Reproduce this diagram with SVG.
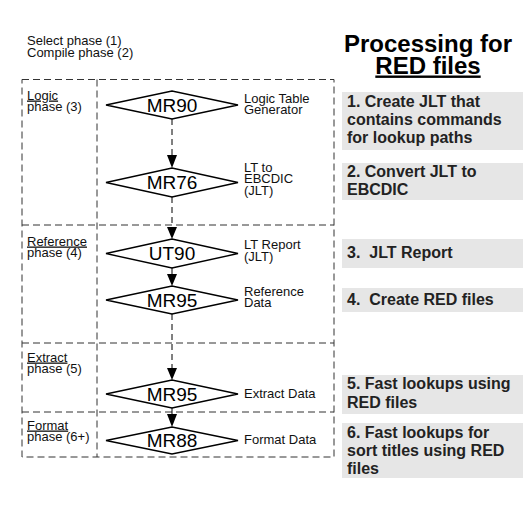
<svg xmlns="http://www.w3.org/2000/svg" width="523" height="527" viewBox="0 0 523 527">
<defs>
<style>
.t{font-family:"Liberation Sans",Arial,sans-serif;font-size:13px;fill:#111}
.u{text-decoration:underline}
.mr{font-family:"Liberation Sans",Arial,sans-serif;font-size:19px;fill:#000;text-anchor:middle}
.dia{fill:#fff;stroke:#000;stroke-width:1.3}
.dash{fill:none;stroke:#333;stroke-width:1;stroke-dasharray:7,4}
.con{fill:none;stroke:#000;stroke-width:1}
.cd{stroke-dasharray:6,4}
.box{fill:#e6e6e6}
.bt{font-family:"Liberation Sans",Arial,sans-serif;font-size:16px;font-weight:bold;fill:#222}
.ti{font-family:"Liberation Sans",Arial,sans-serif;font-size:24px;font-weight:bold;fill:#000;text-anchor:middle}
.ah{fill:#000}
</style>
</defs>
<g id="phases">
<rect class="dash" x="22" y="79.5" width="312" height="377.5"/>
<line class="dash" x1="97" y1="79.5" x2="97" y2="457"/>
<line class="dash" x1="22" y1="225" x2="334" y2="225"/>
<line class="dash" x1="22" y1="343" x2="334" y2="343"/>
<line class="dash" x1="22" y1="412" x2="334" y2="412"/>
</g>
<g id="header">
<text class="t" x="27" y="45">Select phase (1)<tspan x="27" dy="12">Compile phase (2)</tspan></text>
</g>
<g id="phase-labels">
<text class="t" x="27" y="99.5"><tspan class="u">Logic</tspan><tspan x="27" dy="11.5">phase (3)</tspan></text>
<text class="t" x="27" y="245.5"><tspan class="u">Reference</tspan><tspan x="27" dy="11.5">phase (4)</tspan></text>
<text class="t" x="27" y="361.5"><tspan class="u">Extract</tspan><tspan x="27" dy="11.5">phase (5)</tspan></text>
<text class="t" x="27" y="429.5"><tspan class="u">Format</tspan><tspan x="27" dy="11.5">phase (6+)</tspan></text>
</g>
<g id="connectors">
<path class="con cd" d="M172,119 V156"/>
<path class="ah" d="M167,155 H177 L172,168 Z"/>
<path class="con cd" d="M172,197 V228"/>
<path class="ah" d="M167,227 H177 L172,239 Z"/>
<path class="con" d="M172,268 V275"/>
<path class="ah" d="M167,274 H177 L172,286 Z"/>
<path class="con cd" d="M172,314 V369"/>
<path class="ah" d="M167,368 H177 L172,380 Z"/>
<path class="con" d="M172,408 V415"/>
<path class="ah" d="M167,414 H177 L172,427 Z"/>
</g>
<g id="n-mr90">
<polygon class="dia" points="106,105 172,91 238,105 172,119"/>
<text class="mr" x="172" y="111.5">MR90</text>
<text class="t" x="244" y="102.5">Logic Table<tspan x="244" dy="11.5">Generator</tspan></text>
</g>
<g id="n-mr76">
<polygon class="dia" points="106,182.5 172,168 238,182.5 172,197"/>
<text class="mr" x="172" y="189">MR76</text>
<text class="t" x="244" y="171.5">LT to<tspan x="244" dy="11.5">EBCDIC</tspan><tspan x="244" dy="11.5">(JLT)</tspan></text>
</g>
<g id="n-ut90">
<polygon class="dia" points="106,253.5 172,239 238,253.5 172,268"/>
<text class="mr" x="172" y="260">UT90</text>
<text class="t" x="244" y="249">LT Report<tspan x="244" dy="11.5">(JLT)</tspan></text>
</g>
<g id="n-mr95-ref">
<polygon class="dia" points="106,300 172,286 238,300 172,314"/>
<text class="mr" x="172" y="306.5">MR95</text>
<text class="t" x="244" y="295.5">Reference<tspan x="244" dy="11.5">Data</tspan></text>
</g>
<g id="n-mr95-ext">
<polygon class="dia" points="106,394 172,380 238,394 172,408"/>
<text class="mr" x="172" y="400.5">MR95</text>
<text class="t" x="244" y="398">Extract Data</text>
</g>
<g id="n-mr88">
<polygon class="dia" points="106,440.5 172,427 238,440.5 172,454"/>
<text class="mr" x="172" y="447">MR88</text>
<text class="t" x="244" y="444">Format Data</text>
</g>
<g id="title">
<text class="ti" x="428" y="51.5">Processing for<tspan class="u" x="428" dy="22">RED files</tspan></text>
</g>
<g id="step1">
<rect class="box" x="342" y="92" width="181" height="58"/>
<text class="bt" x="347" y="107">1. Create JLT that<tspan x="347" dy="18">contains commands</tspan><tspan x="347" dy="18">for lookup paths</tspan></text>
</g>
<g id="step2">
<rect class="box" x="342" y="163" width="181" height="37"/>
<text class="bt" x="347" y="177">2. Convert JLT to<tspan x="347" dy="18">EBCDIC</tspan></text>
</g>
<g id="step3">
<rect class="box" x="342" y="239" width="181" height="29"/>
<text class="bt" x="347" y="258" xml:space="preserve">3.  JLT Report</text>
</g>
<g id="step4">
<rect class="box" x="342" y="288" width="181" height="24"/>
<text class="bt" x="347" y="305" xml:space="preserve">4.  Create RED files</text>
</g>
<g id="step5">
<rect class="box" x="342" y="375" width="181" height="39"/>
<text class="bt" x="347" y="389">5. Fast lookups using<tspan x="347" dy="19">RED files</tspan></text>
</g>
<g id="step6">
<rect class="box" x="342" y="423" width="181" height="55"/>
<text class="bt" x="347" y="438">6. Fast lookups for<tspan x="347" dy="18">sort titles using RED</tspan><tspan x="347" dy="18">files</tspan></text>
</g>
</svg>
